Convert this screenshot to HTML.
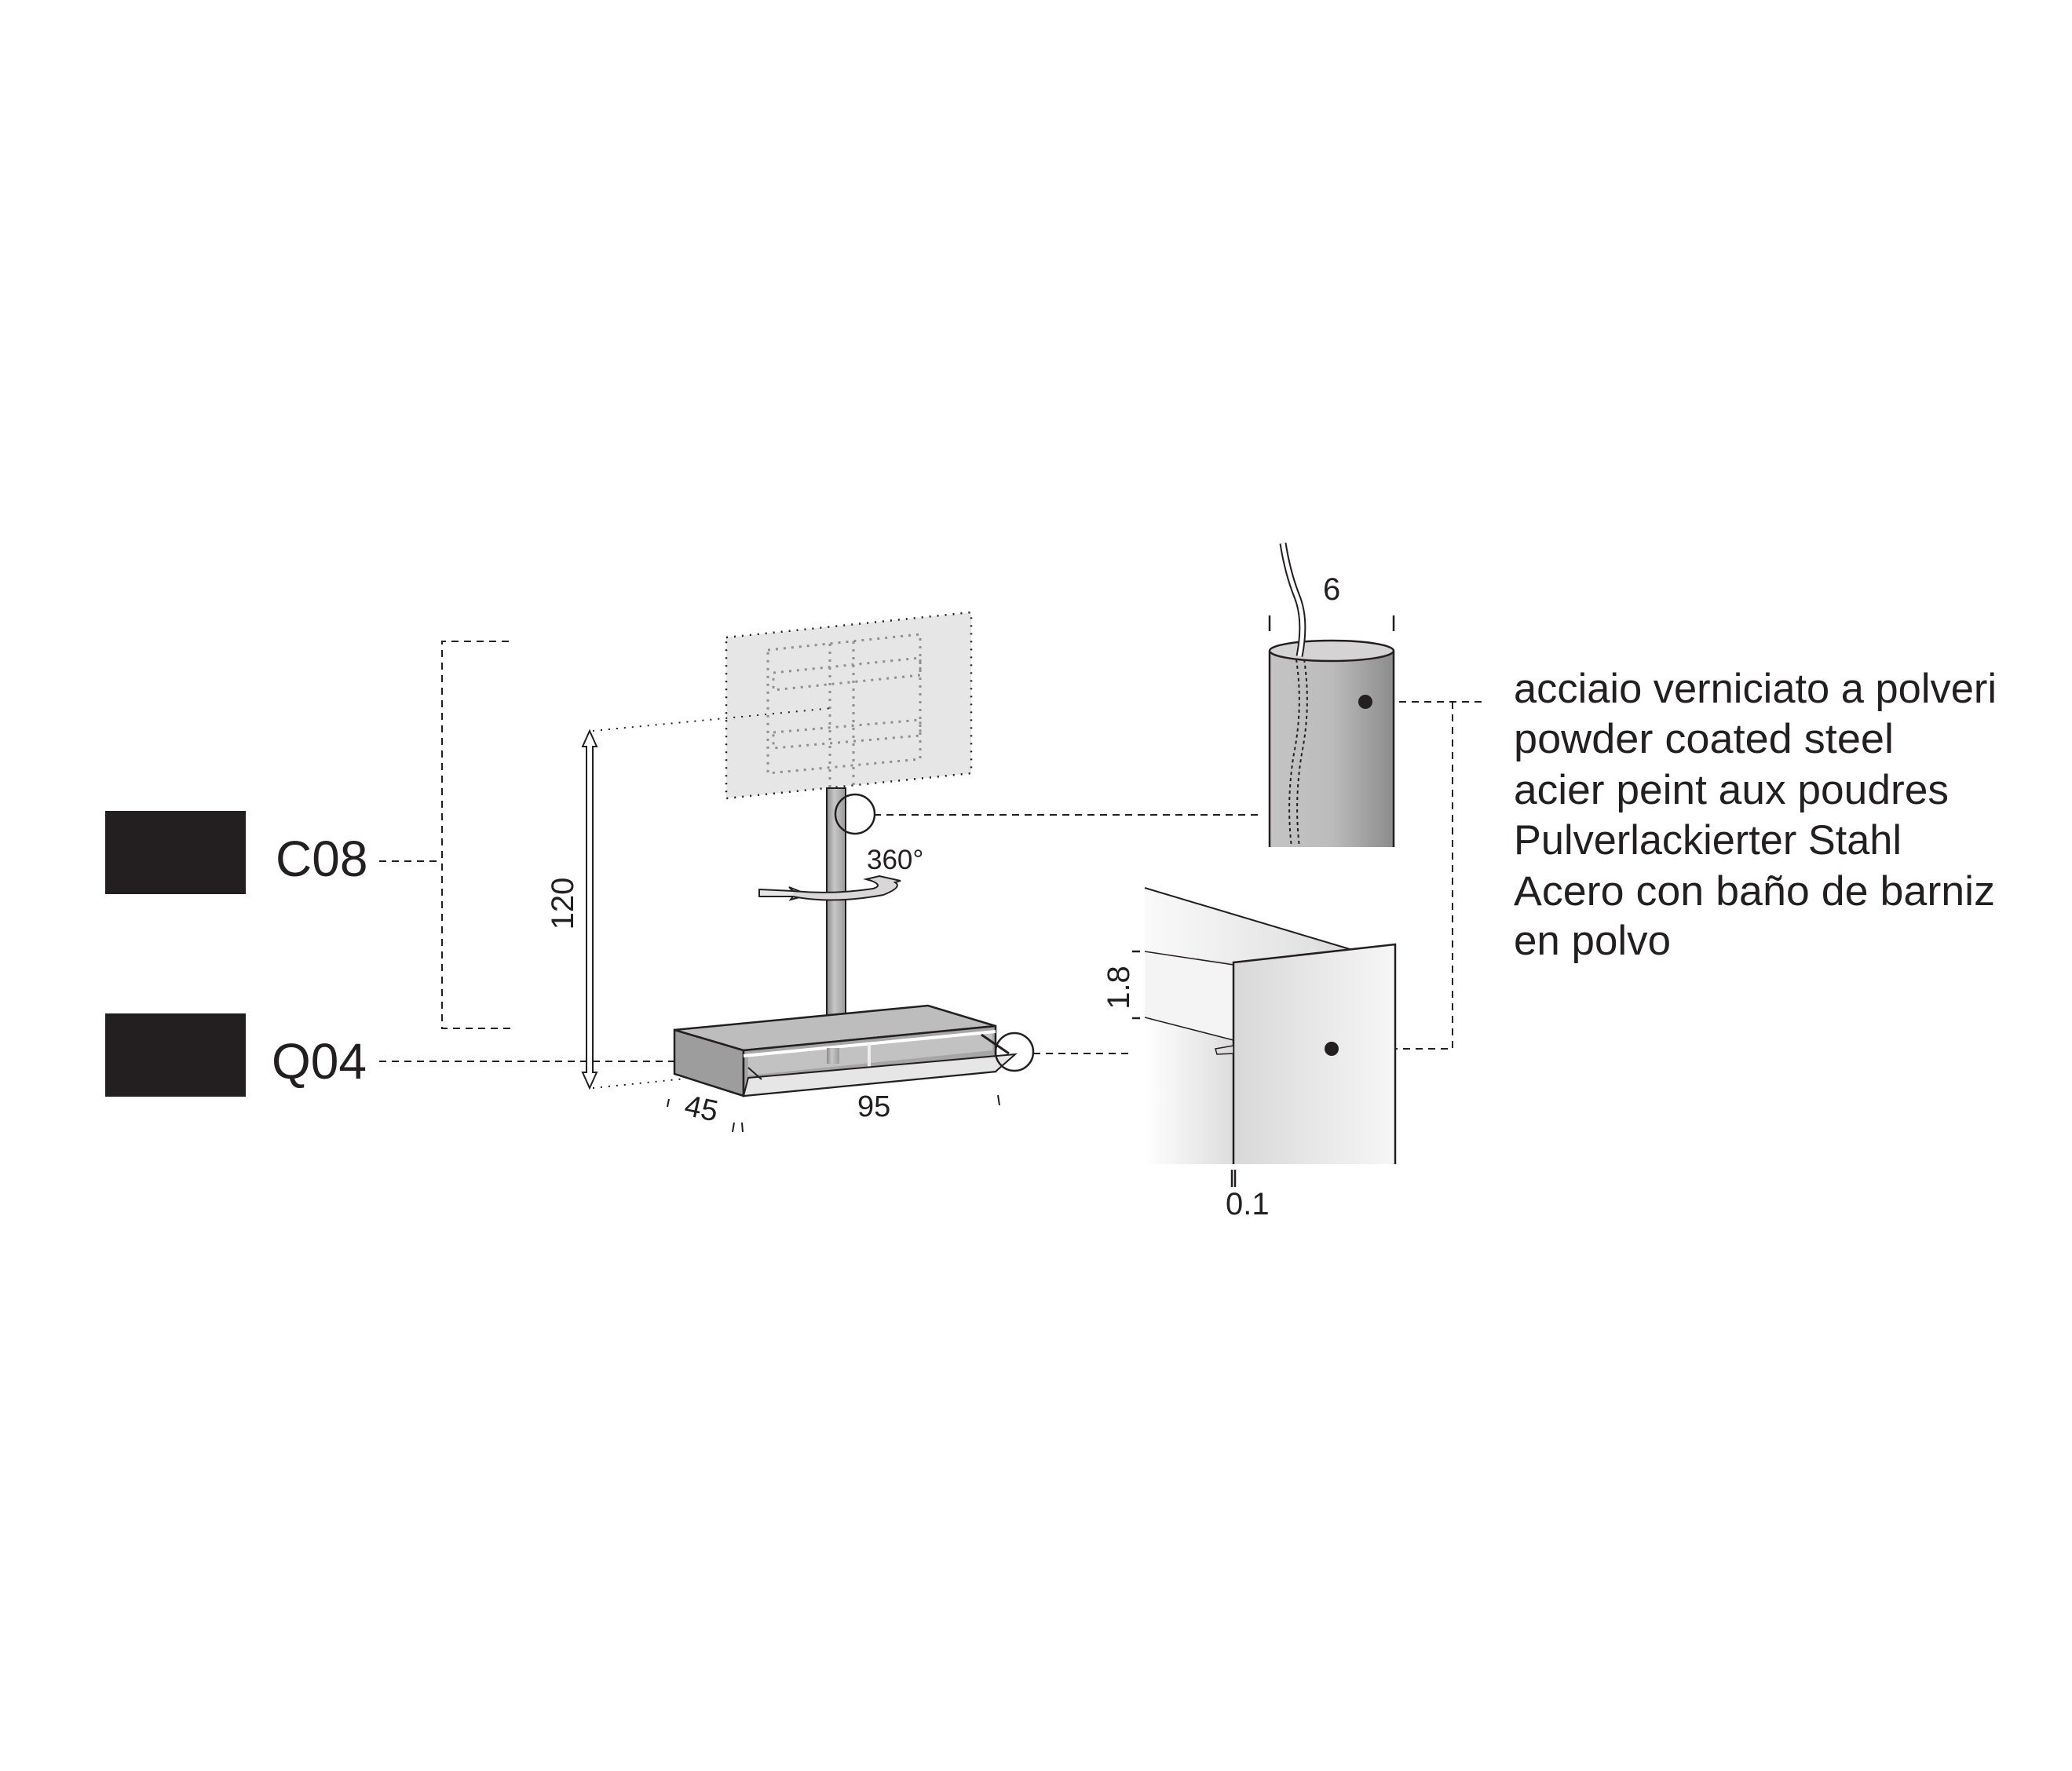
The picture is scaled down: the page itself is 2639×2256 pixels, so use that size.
<!DOCTYPE html>
<html><head><meta charset="utf-8"><style>
html,body{margin:0;padding:0;background:#fff;}
svg{display:block;}
text{font-family:"Liberation Sans",sans-serif;fill:#231f20;}
</style></head><body>
<svg width="2639" height="2256" viewBox="0 0 2639 2256" xmlns="http://www.w3.org/2000/svg">
<defs>
<linearGradient id="pole" x1="0" x2="1"><stop offset="0" stop-color="#8a8a8a"/><stop offset="0.4" stop-color="#c8c8c8"/><stop offset="1" stop-color="#9a9a9a"/></linearGradient>
<linearGradient id="cyl" x1="0" x2="1"><stop offset="0" stop-color="#c4c4c4"/><stop offset="0.5" stop-color="#bcbcbc"/><stop offset="1" stop-color="#8c8c8c"/></linearGradient>
<linearGradient id="front" x1="0" x2="1"><stop offset="0" stop-color="#d8d8d8"/><stop offset="1" stop-color="#f6f6f6"/></linearGradient>
<linearGradient id="back" x1="0" x2="1"><stop offset="0" stop-color="#fafafa"/><stop offset="1" stop-color="#dcdcdc"/></linearGradient>
<linearGradient id="under" x1="0" x2="1"><stop offset="0" stop-color="#ffffff"/><stop offset="0.6" stop-color="#d0d0d0"/><stop offset="1" stop-color="#a8a8a8"/></linearGradient>
</defs>

<!-- legend boxes -->
<rect x="134" y="1033" width="179" height="106" fill="#231f20"/>
<rect x="134" y="1291" width="179" height="106" fill="#231f20"/>
<text x="351" y="1116" font-size="64">C08</text>
<text x="346" y="1374" font-size="64">Q04</text>

<g stroke="#231f20" stroke-width="2" fill="none" stroke-dasharray="9,7">
<line x1="483" y1="1097" x2="563" y2="1097"/>
<polyline points="648,817 563,817 563,1310 652,1310"/>
<line x1="483" y1="1352" x2="859" y2="1352"/>
<line x1="1113" y1="1038" x2="1602" y2="1038"/>
<line x1="1316" y1="1342" x2="1440" y2="1342"/>
<polyline points="1750,894 1893,894"/>
<polyline points="1850,894 1850,1336 1700,1336"/>
</g>

<!-- TV panel -->
<polygon points="925,812 1237,780 1237,985 925,1017" fill="#e6e6e6"/>
<polygon points="925,812 1237,780 1237,985 925,1017" fill="none" stroke="#231f20" stroke-width="2.5" stroke-dasharray="2,8"/>
<g stroke="#8f8f8f" stroke-width="3" fill="none" stroke-dasharray="3,7">
<polygon points="978,828 1172,808 1172,967 978,985"/>
<polygon points="985,857 1172,838 1172,860 985,879"/>
<polygon points="985,933 1172,917 1172,937 985,953"/>
<line x1="1057" y1="820" x2="1057" y2="1005"/>
<line x1="1087" y1="817" x2="1087" y2="1002"/>
</g>
<g stroke="#231f20" stroke-width="2" stroke-dasharray="2,8" fill="none">
<line x1="755" y1="931" x2="1060" y2="902"/>
<line x1="755" y1="1386" x2="873" y2="1374"/>
</g>

<!-- pole -->
<rect x="1053" y="1004" width="24" height="306" fill="url(#pole)" stroke="#231f20" stroke-width="2"/>
<ellipse cx="1089" cy="1037" rx="25" ry="25" fill="none" stroke="#231f20" stroke-width="2.5"/>
<text x="1104" y="1107" font-size="35">360°</text>
<!-- rotation arrow -->
<path d="M967,1133 L1010,1135 L1005,1130 L1030,1140 L1007,1146 L1010,1142 L967,1142 Z" fill="#e6e6e6" stroke="#231f20" stroke-width="2"/>
<path d="M1010,1142 Q1060,1152 1125,1140 Q1150,1130 1140,1124 L1147,1122 L1120,1116 L1103,1120 L1110,1122 Q1125,1128 1112,1132 Q1060,1140 1010,1135" fill="#d8d8d8" stroke="#231f20" stroke-width="2"/>

<!-- 120 double arrow -->
<path d="M751,931 L760,951 L755,951 L755,1366 L760,1366 L751,1386 L742,1366 L747,1366 L747,951 L742,951 Z" fill="#fff" stroke="#231f20" stroke-width="2"/>
<text transform="translate(730,1151) rotate(-90)" font-size="40" text-anchor="middle">120</text>

<!-- base -->
<polygon points="859,1312 1182,1281 1268,1307 947,1338" fill="#bdbdbd" stroke="#231f20" stroke-width="2.5"/>
<polygon points="859,1312 947,1338 947,1396 859,1368" fill="#9d9d9d" stroke="#231f20" stroke-width="2.5"/>
<polygon points="947,1338 1268,1307 1268,1365 947,1396" fill="#a6a6a6" stroke="#231f20" stroke-width="2.5"/>
<polygon points="953,1346 1264,1316 1264,1338 953,1370" fill="#c2c2c2"/>
<line x1="947" y1="1345" x2="1268" y2="1314" stroke="#fff" stroke-width="4"/>
<rect x="1053" y="1335" width="16" height="20" fill="url(#pole)"/>
<rect x="1105" y="1330" width="4" height="32" fill="#eee"/>
<polygon points="953,1373 1293,1343 1268,1365 947,1396" fill="#e6e6e6" stroke="#231f20" stroke-width="2"/>
<line x1="953" y1="1360" x2="970" y2="1375" stroke="#231f20" stroke-width="2"/>
<ellipse cx="1292" cy="1340" rx="24" ry="24" fill="none" stroke="#231f20" stroke-width="2.5"/>
<line x1="1250" y1="1318" x2="1285" y2="1342" stroke="#231f20" stroke-width="3"/>
<text transform="translate(870,1420) rotate(12)" font-size="38">45</text>
<text x="1092" y="1422" font-size="38">95</text>
<g stroke="#231f20" stroke-width="2">
<line x1="852" y1="1400" x2="850" y2="1410"/>
<line x1="935" y1="1430" x2="933" y2="1442"/>
<line x1="945" y1="1430" x2="946" y2="1442"/>
<line x1="1271" y1="1395" x2="1273" y2="1408"/>
</g>

<!-- cylinder detail -->
<rect x="1617" y="829" width="158" height="250" fill="url(#cyl)"/>
<line x1="1617" y1="829" x2="1617" y2="1079" stroke="#231f20" stroke-width="2.5"/>
<line x1="1775" y1="829" x2="1775" y2="1079" stroke="#231f20" stroke-width="2.5"/>
<ellipse cx="1696" cy="829" rx="79" ry="13" fill="#d4d4d4" stroke="#231f20" stroke-width="2.5"/>
<path d="M1634,692 Q1640,730 1652,760 Q1664,790 1655,836" fill="none" stroke="#231f20" stroke-width="9"/>
<path d="M1634,692 Q1640,730 1652,760 Q1664,790 1655,836" fill="none" stroke="#fff" stroke-width="5"/>
<g stroke="#231f20" stroke-width="2" fill="none" stroke-dasharray="4,4">
<path d="M1651,840 Q1660,900 1648,960 Q1638,1020 1645,1079"/>
<path d="M1661,840 Q1670,900 1658,960 Q1648,1020 1655,1079"/>
</g>
<circle cx="1739" cy="894" r="9" fill="#231f20"/>
<text x="1685" y="764" font-size="40">6</text>
<g stroke="#231f20" stroke-width="2.5">
<line x1="1617" y1="784" x2="1617" y2="804"/>
<line x1="1775" y1="784" x2="1775" y2="804"/>
</g>

<!-- profile detail -->
<polygon points="1458,1131 1719,1209 1571,1226 1571,1483 1458,1483" fill="url(#under)"/>
<polygon points="1458,1131 1719,1209 1571,1226 1458,1212" fill="url(#back)"/>
<polygon points="1458,1212 1571,1229 1571,1325 1458,1296" fill="#f4f4f4"/>
<line x1="1458" y1="1131" x2="1719" y2="1209" stroke="#231f20" stroke-width="2"/>
<line x1="1458" y1="1212" x2="1571" y2="1229" stroke="#231f20" stroke-width="1.5"/>
<line x1="1458" y1="1296" x2="1571" y2="1325" stroke="#231f20" stroke-width="1.5"/>
<polygon points="1571,1226 1777,1203 1777,1483 1571,1483" fill="url(#front)"/>
<polyline points="1571,1483 1571,1226 1777,1203 1777,1483" fill="none" stroke="#231f20" stroke-width="2.5"/>
<polygon points="1548,1336 1571,1332 1571,1342 1550,1343" fill="#ddd" stroke="#231f20" stroke-width="1.5"/>
<circle cx="1696" cy="1336" r="9" fill="#231f20"/>
<text transform="translate(1438,1258) rotate(-90)" font-size="40" text-anchor="middle">1.8</text>
<g stroke="#231f20" stroke-width="2.5">
<line x1="1442" y1="1212" x2="1452" y2="1212"/>
<line x1="1442" y1="1297" x2="1452" y2="1297"/>
<line x1="1569" y1="1490" x2="1569" y2="1512"/>
<line x1="1573" y1="1490" x2="1573" y2="1512"/>
</g>
<text x="1561" y="1547" font-size="40">0.1</text>

<!-- material text -->
<g font-size="53">
<text x="1928" y="895" textLength="615" lengthAdjust="spacingAndGlyphs">acciaio verniciato a polveri</text>
<text x="1928" y="959" textLength="484" lengthAdjust="spacingAndGlyphs">powder coated steel</text>
<text x="1928" y="1024" textLength="554" lengthAdjust="spacingAndGlyphs">acier peint aux poudres</text>
<text x="1928" y="1088" textLength="494" lengthAdjust="spacingAndGlyphs">Pulverlackierter Stahl</text>
<text x="1928" y="1153" textLength="613" lengthAdjust="spacingAndGlyphs">Acero con baño de barniz</text>
<text x="1928" y="1216" textLength="200" lengthAdjust="spacingAndGlyphs">en polvo</text>
</g>
</svg>
</body></html>
